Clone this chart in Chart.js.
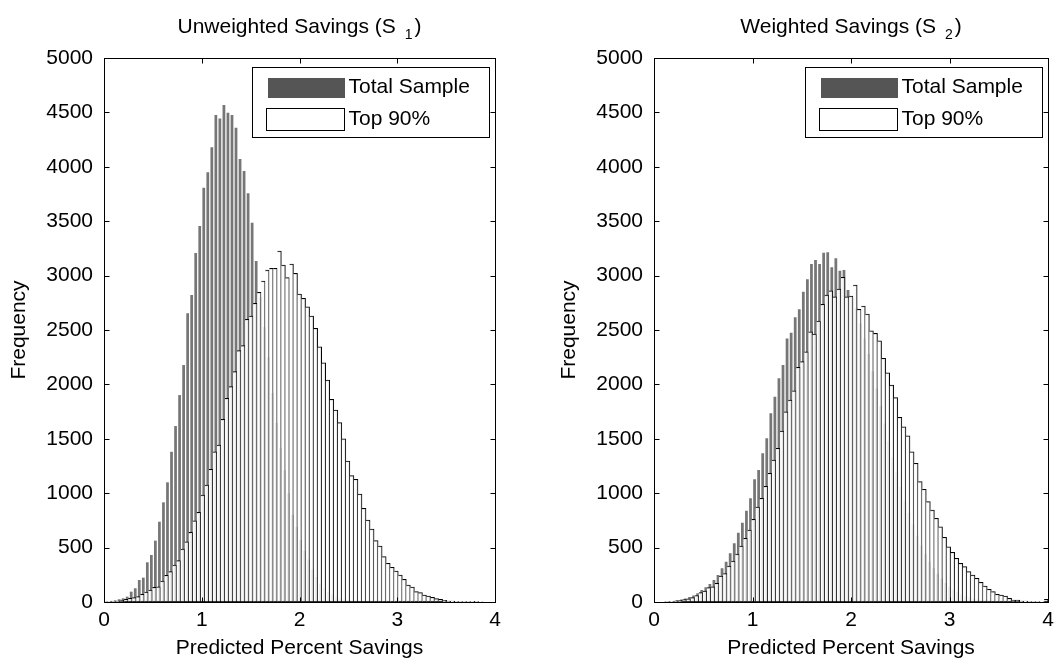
<!DOCTYPE html>
<html>
<head>
<meta charset="utf-8">
<script src="https://cdn.jsdelivr.net/npm/chart.js@4.4.1/dist/chart.umd.min.js"></script>
<style>
    html, body { margin: 0; padding: 0; background: #fff; }
    #wrap { position: relative; width: 1060px; height: 668px; }
    #left { position: absolute; left: 0; top: 0; }
    #right { position: absolute; left: 550px; top: 0; }
</style>
</head>
<body>
<div id="wrap">
    <canvas id="left" width="550" height="668"></canvas>
    <canvas id="right" width="510" height="668"></canvas>
</div>
<script>
// histogram bins: 97 bins of equal width between 0 and 4
var BIN_COUNT = 97;
var BIN_W = 4 / BIN_COUNT;

var xTicks = [0, 1, 2, 3, 4];
var yTicks = [0, 500, 1000, 1500, 2000, 2500, 3000, 3500, 4000, 4500, 5000];
var seriesNames = ['Total Sample', 'Top 90%'];

// Unweighted savings (S1)
var s1Total = [5, 10, 15, 25, 34, 49, 95, 126, 202, 224,
    365, 432, 564, 738, 916, 1100, 1381, 1617, 1902, 2178,
    2653, 2821, 3207, 3455, 3808, 3949, 4179, 4476, 4445, 4568,
    4497, 4476, 4359, 4071, 3961, 3756, 3486, 3134, 2800, 2527,
    2250, 1921, 1645, 1415, 1210, 1000, 800, 690, 570, 470,
    390, 300, 230, 170, 130, 95, 70, 50, 35, 25,
    18, 12, 8, 5, 3, 2, 1, 0, 0, 0,
    0, 0, 0, 0, 0, 0, 0, 0, 0, 0,
    0, 0, 0, 0, 0, 0, 0, 0, 0, 0,
    0, 0, 0, 0, 0, 0, 0];
var s1Top90 = [0, 2, 4, 9, 18, 25, 34, 40, 49, 71,
    92, 110, 135, 140, 193, 245, 279, 340, 380, 487,
    554, 640, 747, 824, 983, 1075, 1220, 1381, 1443, 1679,
    1872, 1979, 2117, 2310, 2356, 2598, 2629, 2745, 2846, 2950,
    3051, 3067, 3067, 3226, 3097, 2981, 3107, 3021, 2831, 2791,
    2714, 2629, 2515, 2346, 2199, 2040, 1863, 1765, 1648, 1500,
    1296, 1161, 1128, 993, 861, 754, 671, 564, 515, 417,
    356, 319, 285, 248, 208, 156, 138, 95, 86, 64,
    55, 43, 31, 25, 15, 9, 8, 3, 5, 4,
    3, 6, 3, 1, 0, 0, 0];

// Weighted savings (S2)
var s2Total = [0, 1, 3, 5, 9, 15, 22, 32, 45, 60,
    80, 110, 135, 165, 202, 248, 310, 370, 447, 540,
    637, 729, 839, 953, 1128, 1213, 1367, 1504, 1734, 1887,
    2056, 2178, 2423, 2475, 2617, 2690, 2852, 2966, 3106, 3143,
    3106, 3210, 3214, 3076, 3159, 3045, 3051, 2867, 2800, 2700,
    2560, 2420, 2280, 2120, 1960, 1800, 1640, 1480, 1330, 1190,
    1060, 930, 820, 710, 610, 520, 440, 370, 310, 260,
    215, 175, 140, 112, 90, 70, 55, 42, 32, 24,
    18, 13, 9, 7, 5, 3, 2, 1, 0, 0,
    0, 0, 0, 0, 0, 0, 0];
var s2Top90 = [0, 0, 1, 3, 6, 10, 15, 22, 30, 40,
    60, 86, 101, 132, 140, 172, 239, 262, 330, 375,
    440, 515, 585, 662, 760, 873, 953, 1063, 1183, 1305,
    1413, 1572, 1749, 1856, 1942, 2157, 2209, 2300, 2484, 2463,
    2583, 2736, 2821, 2861, 2806, 2877, 2984, 2806, 2812, 2913,
    2690, 2720, 2647, 2493, 2469, 2401, 2240, 2107, 1994, 1878,
    1697, 1611, 1528, 1381, 1275, 1106, 1036, 922, 845, 769,
    692, 595, 508, 457, 402, 356, 325, 279, 248, 218,
    181, 147, 117, 95, 71, 64, 55, 34, 18, 18,
    9, 8, 5, 3, 3, 2, 25];

var FONT = '"Liberation Sans", Arial, Helvetica, sans-serif';
var GRAY = '#767676';

function binPoints(values, shift) {
    return values.map(function (v, i) {
        return {x: (i + 0.5 + shift) * BIN_W, y: v};
    });
}

// frame, inward ticks, title with subscript and framed legend
var decor = {
    id: 'decor',
    afterDatasetsDraw: function (chart, args, o) {
        var ctx = chart.ctx, a = chart.chartArea;
        var xs = chart.scales.x, ys = chart.scales.y;
        var L = Math.round(a.left) + 0.5, R = Math.round(a.right) + 0.5;
        var T = Math.round(a.top) + 0.5, B = Math.round(a.bottom) + 0.5;
        ctx.save();
        ctx.strokeStyle = '#000';
        ctx.lineWidth = 1;
        ctx.strokeRect(L, T, R - L, B - T);
        ctx.beginPath();
        ys.ticks.forEach(function (t, i) {
            var y = Math.round(ys.getPixelForTick(i)) + 0.5;
            ctx.moveTo(L, y); ctx.lineTo(L + 5, y);
            ctx.moveTo(R, y); ctx.lineTo(R - 5, y);
        });
        xs.ticks.forEach(function (t, i) {
            var x = Math.round(xs.getPixelForTick(i)) + 0.5;
            ctx.moveTo(x, B); ctx.lineTo(x, B - 5);
            ctx.moveTo(x, T); ctx.lineTo(x, T + 5);
        });
        ctx.stroke();

        // title
        ctx.fillStyle = '#000';
        ctx.textBaseline = 'alphabetic';
        ctx.font = '21px ' + FONT;
        var wMain = ctx.measureText(o.title).width;
        ctx.font = '14px ' + FONT;
        var wSub = ctx.measureText(o.sub).width;
        ctx.font = '21px ' + FONT;
        var wEnd = ctx.measureText(')').width;
        var total = wMain + 9 + wSub + 2 + wEnd;
        var x0 = (a.left + a.right) / 2 - total / 2;
        ctx.textAlign = 'left';
        ctx.fillText(o.title, x0, 33);
        ctx.fillText(')', x0 + wMain + 9 + wSub + 2, 33);
        ctx.font = '14px ' + FONT;
        ctx.fillText(o.sub, x0 + wMain + 9, 39);

        // legend
        var fw = 237, fh = 70;
        var fl = Math.round(a.right - 6 - fw) + 0.5, ft = Math.round(a.top + 9) + 0.5;
        ctx.fillStyle = '#fff';
        ctx.fillRect(fl, ft, fw, fh);
        ctx.strokeStyle = '#000';
        ctx.strokeRect(fl, ft, fw, fh);
        ctx.fillStyle = '#555';
        ctx.fillRect(fl + 15.5, ft + 10.5, 77, 20);
        ctx.fillStyle = '#fff';
        ctx.fillRect(fl + 14, ft + 41, 78, 22);
        ctx.strokeRect(fl + 14, ft + 41, 78, 22);
        ctx.fillStyle = '#000';
        ctx.font = '21px ' + FONT;
        ctx.textBaseline = 'middle';
        ctx.fillText(seriesNames[0], fl + 96, ft + 20);
        ctx.fillText(seriesNames[1], fl + 96, ft + 52);
        ctx.restore();
    }
};

function makeChart(canvasId, total, top90, title, sub, padRight) {
    var tickFont = {family: FONT, size: 21};
    return new Chart(document.getElementById(canvasId), {
        type: 'bar',
        data: {
            datasets: [{
                label: seriesNames[0],
                data: binPoints(total, 0.25),
                xAxisID: 'xg',
                grouped: false,
                backgroundColor: GRAY,
                borderWidth: 0,
                barPercentage: 0.68,
                categoryPercentage: 1,
                order: 2
            }, {
                label: seriesNames[1],
                data: binPoints(top90, 0),
                xAxisID: 'x',
                grouped: false,
                backgroundColor: 'rgba(255,255,255,0.86)',
                borderColor: '#000',
                borderWidth: 1,
                borderSkipped: 'left',
                barPercentage: 1,
                categoryPercentage: 1,
                order: 1
            }]
        },
        options: {
            responsive: false,
            animation: false,
            devicePixelRatio: 1,
            layout: {padding: {left: 0, right: padRight, top: 58, bottom: 0}},
            plugins: {
                legend: {display: false},
                tooltip: {enabled: false},
                decor: {title: title, sub: sub}
            },
            scales: {
                x: {
                    type: 'linear', min: 0, max: 4, position: 'bottom', offset: false,
                    grid: {display: false, drawTicks: false},
                    border: {display: false},
                    afterBuildTicks: function (s) {
                        s.ticks = xTicks.map(function (v) { return {value: v}; });
                    },
                    afterFit: function (s) { s.height = 66; },
                    ticks: {
                        font: tickFont, color: '#000', padding: 6,
                        maxRotation: 0, autoSkip: false,
                        callback: function (v) { return String(v); }
                    },
                    title: {
                        display: true, text: 'Predicted Percent Savings',
                        font: tickFont, color: '#000', padding: {top: 0, bottom: 7}
                    }
                },
                xg: {type: 'linear', min: 0, max: 4, offset: false, display: false},
                y: {
                    type: 'linear', min: 0, max: 5000,
                    grid: {display: false, drawTicks: false},
                    border: {display: false},
                    afterBuildTicks: function (s) {
                        s.ticks = yTicks.map(function (v) { return {value: v}; });
                    },
                    afterFit: function (s) { s.width = 104; },
                    ticks: {
                        font: tickFont, color: '#000', padding: 11, autoSkip: false,
                        callback: function (v) { return String(v); }
                    },
                    title: {
                        display: true, text: 'Frequency',
                        font: tickFont, color: '#000', padding: {top: 7, bottom: 0}
                    }
                }
            }
        },
        plugins: [decor]
    });
}

makeChart('left', s1Total, s1Top90, 'Unweighted Savings (S', '1', 55);
makeChart('right', s2Total, s2Top90, 'Weighted Savings (S', '2', 10);
</script>
</body>
</html>
